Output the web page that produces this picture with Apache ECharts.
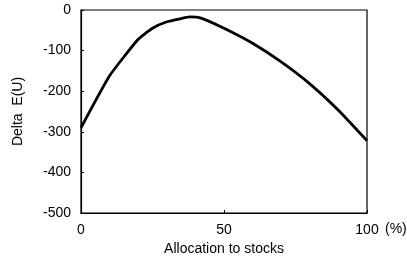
<!DOCTYPE html>
<html>
<head>
<meta charset="utf-8">
<script src="https://cdn.jsdelivr.net/npm/echarts@6/dist/echarts.min.js"></script>
<style>html,body{margin:0;padding:0;background:#fff}#c{width:407px;height:262px}</style>
</head>
<body>
<div id="c"></div>
<script>
var allocation = [0, 10, 20, 25, 30, 35, 38, 42, 50, 60, 70, 80, 90, 100];
var deltaEU = [-290, -162, -72, -45, -29, -21, -17, -20, -45, -82, -128, -182, -247, -322];
var xTicks = [0, 50, 100];
var yTicks = [0, -100, -200, -300, -400, -500];

var chart = echarts.init(document.getElementById('c'), null, {renderer: 'canvas'});
var font = 'Liberation Sans, Arial, sans-serif';
chart.setOption({
  animation: false,
  backgroundColor: '#fff',
  grid: {left: 81, top: 10, right: 40, bottom: 49, show: true, borderColor: '#000', borderWidth: 1.2, backgroundColor: 'transparent'},
  xAxis: {
    type: 'value', min: 0, max: 100, interval: 50,
    name: 'Allocation to stocks', nameLocation: 'middle', nameGap: 25,
    nameTextStyle: {color: '#000', fontFamily: font, fontSize: 14},
    axisLine: {show: true, onZero: false, lineStyle: {color: '#000', width: 1.2}},
    axisTick: {show: true, inside: true, length: 3, lineStyle: {color: '#000'}},
    axisLabel: {color: '#000', fontFamily: font, fontSize: 14, margin: 10,
      formatter: function (v) { return xTicks.indexOf(v) >= 0 ? String(v) : ''; }},
    splitLine: {show: false}
  },
  yAxis: {
    type: 'value', min: -500, max: 0, interval: 100,
    name: 'Delta  E(U)', nameLocation: 'middle', nameGap: 56,
    nameTextStyle: {color: '#000', fontFamily: font, fontSize: 14},
    axisLine: {show: true, onZero: false, lineStyle: {color: '#000', width: 1.2}},
    axisTick: {show: true, inside: true, length: 3, lineStyle: {color: '#000'}},
    axisLabel: {color: '#000', fontFamily: font, fontSize: 14, margin: 10,
      formatter: function (v) { return yTicks.indexOf(v) >= 0 ? String(v) : ''; }},
    splitLine: {show: false}
  },
  graphic: [{type: 'text', left: 385, top: 222, style: {text: '(%)', fill: '#000', font: '14px ' + font}}],
  series: [{
    type: 'line',
    data: allocation.map(function (x, i) { return [x, deltaEU[i]]; }),
    smooth: 0.15,
    showSymbol: false,
    lineStyle: {color: '#000', width: 2.8}
  }]
});
</script>
</body>
</html>
